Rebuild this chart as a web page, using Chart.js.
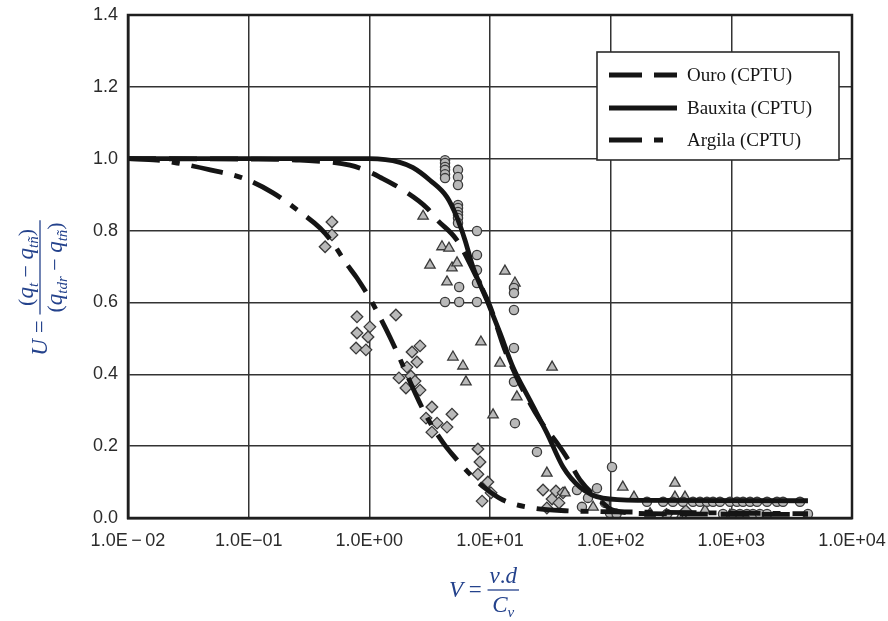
<!DOCTYPE html>
<html>
<head>
<meta charset="utf-8">
<script src="https://cdn.jsdelivr.net/npm/chart.js@4.4.1/dist/chart.umd.min.js"></script>
<style>
html,body{margin:0;padding:0;background:#fff;}
#c{display:block;}
</style>
</head>
<body>
<canvas id="c" width="888" height="621"></canvas>
<script>
// ---- axis ticks ----
const xTickValues = [0.01, 0.1, 1, 10, 100, 1000, 10000];
const xTickLabels = ['1.0E\u2009\u2212\u200902', '1.0E\u221201', '1.0E+00', '1.0E+01', '1.0E+02', '1.0E+03', '1.0E+04'];
const yTickValues = [0, 0.2, 0.4, 0.6, 0.8, 1.0, 1.2, 1.4];

// ---- legend / series names ----
const seriesNames = ['Ouro (CPTU)', 'Bauxita (CPTU)', 'Argila (CPTU)'];

// ---- fitted curves (V, U) ----
const ouroV = [0.01, 0.1, 0.266, 0.69, 1.0, 1.22, 1.9, 3.0, 3.64, 5.3, 8.0, 10, 13.2, 17.9, 25.9, 35.9, 43.6, 55.7, 81, 104, 210, 4315];
const ouroU = [1.0, 0.999, 0.996, 0.982, 0.963, 0.949, 0.913, 0.863, 0.83, 0.774, 0.66, 0.59, 0.47, 0.37, 0.273, 0.209, 0.167, 0.106, 0.05, 0.022, 0.012, 0.01];

const bauxitaV = [0.01, 0.1, 1.0, 1.79, 2.3, 3.18, 4.4, 5.3, 6.2, 7.2, 9.4, 12.1, 15.5, 21.4, 29.6, 40.3, 55.7, 86.3, 175, 4315];
const bauxitaU = [1.0, 1.0, 1.0, 0.99, 0.975, 0.94, 0.893, 0.838, 0.774, 0.70, 0.607, 0.515, 0.42, 0.328, 0.237, 0.142, 0.086, 0.055, 0.049, 0.048];

const argilaV = [0.01, 0.0174, 0.0255, 0.048, 0.0898, 0.159, 0.266, 0.39, 0.5, 0.63, 0.79, 1.05, 1.22, 1.48, 3.0, 4.08, 4.93, 7.2, 9.1, 12.8, 22.3, 44.3, 81.5, 4315];
const argilaU = [1.0, 0.996, 0.988, 0.969, 0.946, 0.905, 0.852, 0.807, 0.765, 0.713, 0.668, 0.601, 0.56, 0.504, 0.281, 0.21, 0.175, 0.114, 0.083, 0.05, 0.028, 0.02, 0.018, 0.012];

// ---- measured points ----
const circleV = [4.24, 4.24, 4.24, 4.24, 4.24, 4.24, 5.43, 5.43, 5.43, 5.43, 5.43, 5.43, 5.43, 5.43, 5.43, 7.8, 7.8, 7.8, 7.8, 5.55, 4.24, 5.55, 7.8, 15.8, 15.8, 15.8, 15.8, 15.8, 16.1, 24.5, 102.6, 52.6, 77, 64.9, 57.8, 89.8, 98.7, 112,
  200, 272, 328, 397, 481, 550, 628, 705, 805, 975, 1114, 1250, 1429, 1634, 1977, 2390, 2680, 3706,
  293, 853, 1033, 1178, 1348, 1510, 1726, 1977, 4315];
const circleU = [0.996, 0.988, 0.977, 0.969, 0.957, 0.946, 0.969, 0.949, 0.927, 0.871, 0.863, 0.852, 0.843, 0.835, 0.821, 0.799, 0.732, 0.69, 0.654, 0.643, 0.601, 0.601, 0.601, 0.64, 0.626, 0.579, 0.473, 0.379, 0.264, 0.184, 0.142, 0.078, 0.083, 0.056, 0.031, 0.042, 0.014, 0.012,
  0.045, 0.045, 0.045, 0.045, 0.045, 0.045, 0.045, 0.045, 0.045, 0.045, 0.045, 0.045, 0.045, 0.045, 0.045, 0.045, 0.045, 0.045,
  0.011, 0.011, 0.011, 0.011, 0.011, 0.011, 0.011, 0.011, 0.011];

const triangleV = [2.79, 4.0, 4.57, 3.18, 4.84, 5.33, 4.4, 13.3, 16.1, 8.41, 4.93, 5.97, 6.32, 12.1, 32.7, 16.7, 10.6, 29.6, 126, 341, 156, 341, 413, 605, 375, 104, 41.8, 71.5, 975, 212];
const triangleU = [0.84, 0.755, 0.751, 0.704, 0.696, 0.71, 0.657, 0.687, 0.654, 0.49, 0.448, 0.423, 0.379, 0.431, 0.42, 0.337, 0.287, 0.125, 0.086, 0.097, 0.058, 0.058, 0.058, 0.022, 0.0, 0.002, 0.07, 0.03, 0.008, 0.012];

const diamondV = [0.49, 0.49, 0.43, 0.79, 1.66, 1.01, 0.79, 0.975, 0.776, 0.937, 2.63, 2.26, 2.48, 2.05, 1.76, 2.21, 2.39, 2.01, 2.63, 3.3, 4.84, 2.95, 3.64, 4.4, 3.3, 7.94, 8.26, 7.94, 9.6, 10.2, 8.6, 27.5, 32.7, 35.2, 29.6, 37.3, 40.3, 290, 420];
const diamondU = [0.824, 0.788, 0.755, 0.56, 0.565, 0.532, 0.515, 0.504, 0.473, 0.468, 0.479, 0.462, 0.434, 0.42, 0.39, 0.395, 0.381, 0.362, 0.356, 0.309, 0.289, 0.278, 0.264, 0.253, 0.239, 0.192, 0.156, 0.122, 0.1, 0.07, 0.047, 0.078, 0.053, 0.075, 0.028, 0.042, 0.07, 0.01, 0.02];

// ---- build ----
const pts = (xs, ys) => xs.map((v, i) => ({ x: v, y: ys[i] }));

const OURO_DASH = [28, 13];
const ARGILA_DASH = [32, 12, 8, 12];
const LINE_W = 4.8;
const markerFill = '#b9b9b9';
const markerEdge = '#3a3a3a';

const mathColor = '#24428c';

function lineDs(label, xs, ys, dash) {
  return {
    type: 'line', label: label, data: pts(xs, ys),
    borderColor: '#151515', borderWidth: LINE_W, borderDash: dash,
    borderCapStyle: 'butt', pointRadius: 0, pointHoverRadius: 0,
    fill: false, cubicInterpolationMode: 'monotone', order: 0
  };
}
function scatterDs(label, xs, ys, style, r) {
  return {
    type: 'scatter', label: label, data: pts(xs, ys),
    pointStyle: style, pointRadius: r, pointHoverRadius: r,
    backgroundColor: markerFill, borderColor: markerEdge, borderWidth: 1.3,
    showLine: false, order: 1
  };
}

function richWidth(ctx, parts) {
  let w = 0;
  parts.forEach(p => { ctx.font = p.font; w += ctx.measureText(p.t).width; });
  return w;
}
function drawRich(ctx, parts, x, y) {
  let cx = x;
  parts.forEach(p => {
    ctx.font = p.font;
    ctx.fillText(p.t, cx, y + (p.dy || 0));
    cx += ctx.measureText(p.t).width;
  });
}

const F = "'Liberation Serif', 'DejaVu Serif', serif";
const it = (s) => 'italic ' + s + 'px ' + F;
const rm = (s) => s + 'px ' + F;

function drawFraction(ctx, lead, num, den, cx, barY, fs) {
  const eqParts = [{ t: ' = ', font: rm(fs) }];
  const wl = richWidth(ctx, lead);
  const we = richWidth(ctx, eqParts);
  const wn = richWidth(ctx, num);
  const wd = richWidth(ctx, den);
  const wf = Math.max(wn, wd) + 4;
  const total = wl + we + wf;
  let x0 = cx - total / 2;
  ctx.textBaseline = 'alphabetic';
  drawRich(ctx, lead, x0, barY + fs * 0.32);
  drawRich(ctx, eqParts, x0 + wl, barY + fs * 0.32);
  const fx = x0 + wl + we;
  drawRich(ctx, num, fx + (wf - wn) / 2, barY - fs * 0.3);
  drawRich(ctx, den, fx + (wf - wd) / 2, barY + fs * 0.95);
  ctx.lineWidth = 1.3;
  ctx.beginPath();
  ctx.moveTo(fx, barY);
  ctx.lineTo(fx + wf, barY);
  ctx.stroke();
}

const decorPlugin = {
  id: 'decor',
  afterDraw(chart) {
    const ctx = chart.ctx;
    const a = chart.chartArea;
    ctx.save();
    ctx.strokeStyle = '#1e1e1e';
    ctx.lineWidth = 2.5;
    ctx.strokeRect(a.left, a.top, a.right - a.left, a.bottom - a.top);

    // legend box
    const lx = 597, ly = 52, lw = 242, lh = 108;
    ctx.fillStyle = '#ffffff';
    ctx.fillRect(lx, ly, lw, lh);
    ctx.strokeStyle = '#2a2a2a';
    ctx.lineWidth = 1.6;
    ctx.strokeRect(lx, ly, lw, lh);
    const rows = [75, 108, 140];
    ctx.strokeStyle = '#151515';
    ctx.lineWidth = 5;
    ctx.lineCap = 'butt';
    const dashes = [[33, 12], [], [33, 12, 9, 100]];
    for (let i = 0; i < 3; i++) {
      ctx.setLineDash(dashes[i]);
      ctx.beginPath();
      ctx.moveTo(609, rows[i]);
      ctx.lineTo(677, rows[i]);
      ctx.stroke();
    }
    ctx.setLineDash([]);
    ctx.fillStyle = '#151515';
    ctx.font = rm(19);
    ctx.textBaseline = 'middle';
    ctx.textAlign = 'left';
    for (let i = 0; i < 3; i++) ctx.fillText(seriesNames[i], 687, rows[i] + 1);

    // x-axis label: V = v.d / C_v
    ctx.fillStyle = mathColor;
    ctx.strokeStyle = mathColor;
    ctx.textAlign = 'left';
    drawFraction(ctx,
      [{ t: 'V', font: it(23) }],
      [{ t: 'v', font: it(23) }, { t: '.', font: rm(23) }, { t: 'd', font: it(23) }],
      [{ t: 'C', font: it(23) }, { t: 'v', font: it(15), dy: 5 }],
      484, 590, 23);

    // y-axis label (rotated)
    ctx.save();
    ctx.translate(40, 288);
    ctx.rotate(-Math.PI / 2);
    drawFraction(ctx,
      [{ t: 'U', font: it(23) }],
      [{ t: '(', font: rm(22) }, { t: 'q', font: it(23) }, { t: 't', font: it(15), dy: 5 },
       { t: ' \u2212 ', font: rm(22) }, { t: 'q', font: it(23) }, { t: 't\u00f1', font: it(15), dy: 5 }, { t: ')', font: rm(22) }],
      [{ t: '(', font: rm(22) }, { t: 'q', font: it(23) }, { t: 'tdr', font: it(15), dy: 5 },
       { t: ' \u2212 ', font: rm(22) }, { t: 'q', font: it(23) }, { t: 't\u00f1', font: it(15), dy: 5 }, { t: ')', font: rm(22) }],
      0, 0, 23);
    ctx.restore();
    ctx.restore();
  }
};

const chart = new Chart(document.getElementById('c'), {
  data: {
    datasets: [
      lineDs(seriesNames[0], ouroV, ouroU, OURO_DASH),
      lineDs(seriesNames[1], bauxitaV, bauxitaU, []),
      lineDs(seriesNames[2], argilaV, argilaU, ARGILA_DASH),
      scatterDs('Pontos (círculo)', circleV, circleU, 'circle', 4.6),
      scatterDs('Pontos (triângulo)', triangleV, triangleU, 'triangle', 6),
      scatterDs('Pontos (losango)', diamondV, diamondU, 'rectRot', 5.8)
    ]
  },
  options: {
    responsive: false,
    animation: false,
    devicePixelRatio: 1,
    layout: { padding: { left: 0, right: 36, top: 15, bottom: 0 } },
    plugins: { legend: { display: false }, tooltip: { enabled: false } },
    scales: {
      x: {
        type: 'logarithmic', min: 0.01, max: 10000,
        afterBuildTicks: (s) => { s.ticks = xTickValues.map(v => ({ value: v })); },
        afterFit: (s) => { s.height = 621 - 518; s.paddingLeft = 0; s.paddingRight = 0; },
        ticks: {
          autoSkip: false, maxRotation: 0, padding: 12,
          color: '#2b2b2b', font: { family: "'Liberation Sans', Arial, sans-serif", size: 18 },
          callback: (v, i) => xTickLabels[i]
        },
        grid: { color: '#333333', lineWidth: 1.5, drawTicks: false },
        border: { display: true, color: '#1e1e1e', width: 2.5 }
      },
      y: {
        type: 'linear', min: 0, max: 1.4,
        afterBuildTicks: (s) => { s.ticks = yTickValues.map(v => ({ value: v })); },
        afterFit: (s) => { s.width = 128; s.paddingTop = 0; s.paddingBottom = 0; },
        ticks: {
          padding: 10, color: '#2b2b2b',
          font: { family: "'Liberation Sans', Arial, sans-serif", size: 18 },
          callback: (v) => Number(v).toFixed(1)
        },
        grid: { color: '#333333', lineWidth: 1.5, drawTicks: false },
        border: { display: true, color: '#1e1e1e', width: 2.5 }
      }
    }
  },
  plugins: [decorPlugin]
});
</script>
</body>
</html>
